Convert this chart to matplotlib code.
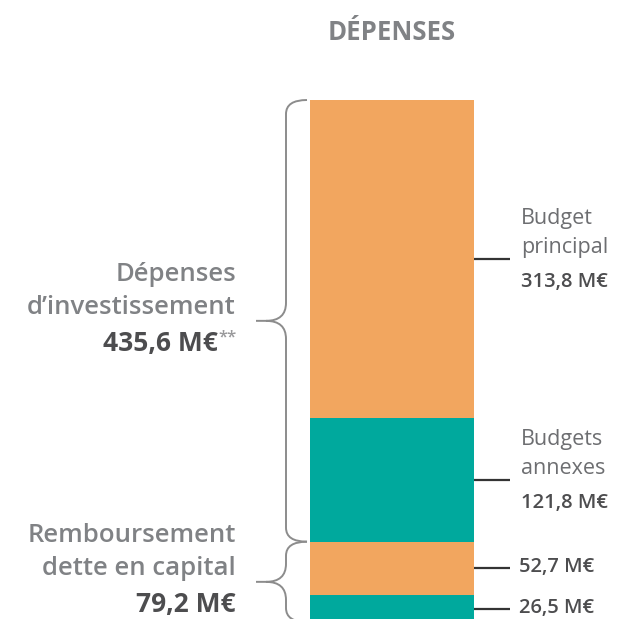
import matplotlib
matplotlib.use("Agg")
import matplotlib.pyplot as plt
from matplotlib.path import Path
from matplotlib.patches import PathPatch

# ─── Data ─────────────────────────────────────────────────────────────────────

SEGMENT_VALUES = [26.5, 52.7, 121.8, 313.8]          # bottom → top, M€
SEGMENT_COLORS = ["#00A99D", "#F2A65F", "#00A99D", "#F2A65F"]
SEGMENT_LABELS = [None, None, ("Budgets", "annexes"), ("Budget", "principal")]
SEGMENT_VALUE_TEXT = ["26,5 M€", "52,7 M€", "121,8 M€", "313,8 M€"]

GROUP_NAMES = [("Remboursement", "dette en capital"), ("Dépenses", "d\u2019investissement")]
GROUP_TOTALS = ["79,2 M€", "435,6 M€"]
GROUP_NOTES = ["", "**"]
GROUP_SPANS = [(0, 2), (2, 4)]                        # segment index ranges

TITLE = "DÉPENSES"

GREY = "#808285"
DARK = "#4d4d4f"
FONT = ["Open Sans", "DejaVu Sans"]

# ─── Figure ───────────────────────────────────────────────────────────────────

fig = plt.figure(figsize=(6.25, 6.19), dpi=100)
ax = fig.add_axes([0, 0, 1, 1])
total = sum(SEGMENT_VALUES)
k = 522 / total                       # px per M€
ax.set_xlim(0, 625)
ax.set_ylim(3 / k, total + 100 / k)
ax.axis("off")

bar_x, bar_w = 310, 164
bottoms = [sum(SEGMENT_VALUES[:i]) for i in range(len(SEGMENT_VALUES))]
ax.bar(bar_x, SEGMENT_VALUES, width=bar_w, bottom=bottoms, color=SEGMENT_COLORS,
       align="edge", linewidth=0)

# Right-hand labels with connector ticks
for v, b, lab, vt in zip(SEGMENT_VALUES, bottoms, SEGMENT_LABELS, SEGMENT_VALUE_TEXT):
    yc = b + v / 2
    ax.plot([bar_x + bar_w, 510], [yc, yc], color="#333333", lw=1.6,
            solid_capstyle="butt")
    if lab:
        for line, off in zip(lab, (35, 6)):
            ax.text(521, yc + off / k, line, ha="left", va="baseline", fontsize=15.5,
                    color="#6d6e71", family=FONT)
        ax.text(521, yc - 28 / k, vt, ha="left", va="baseline", fontsize=14.5,
                color=DARK, family=FONT, fontweight="semibold")
    else:
        ax.text(519, yc + 1 / k, vt, ha="left", va="center", fontsize=14.5,
                color=DARK, family=FONT, fontweight="semibold")


def draw_brace(y_top, y_bot, x_body=286, x_end=307, x_tip=256, r_end=14, r_mid=18):
    mid = (y_top + y_bot) / 2
    re_, rm = r_end / k, r_mid / k
    verts = [
        (x_end, y_top), (x_body, y_top), (x_body, y_top - re_),
        (x_body, mid + rm),
        (x_body, mid), (x_body - 20, mid),
        (x_tip, mid),
        (x_body - 20, mid), (x_body, mid), (x_body, mid - rm),
        (x_body, y_bot + re_),
        (x_body, y_bot), (x_end, y_bot),
    ]
    codes = [
        Path.MOVETO, Path.CURVE3, Path.CURVE3,
        Path.LINETO,
        Path.CURVE3, Path.CURVE3,
        Path.LINETO,
        Path.MOVETO, Path.CURVE3, Path.CURVE3,
        Path.LINETO,
        Path.CURVE3, Path.CURVE3,
    ]
    ax.add_patch(PathPatch(Path(verts, codes), fill=False, edgecolor="#8c8c8c",
                           lw=1.4, capstyle="butt"))
    return mid


for (i0, i1), name, tot, note in zip(GROUP_SPANS, GROUP_NAMES, GROUP_TOTALS, GROUP_NOTES):
    y_bot = bottoms[i0]
    y_top = bottoms[i1 - 1] + SEGMENT_VALUES[i1 - 1]
    mid = draw_brace(y_top, y_bot)
    for line, off in zip(name, (40, 7)):
        ax.text(236, mid + off / k, line, ha="right", va="baseline", fontsize=18.5,
                color=GREY, family=FONT, fontweight="semibold")
    x_val = 218 if note else 236
    t_val = ax.text(x_val, mid - 30 / k, tot, ha="right", va="baseline", fontsize=19,
                    color=DARK, family=FONT, fontweight="bold")
    if note:
        ax.annotate(note, xy=(1, 1), xycoords=t_val, xytext=(0.5, 0),
                    textcoords="offset points", ha="left", va="top", fontsize=12,
                    color="#9a9a9c", family=FONT, fontweight="semibold")

fig.text(392 / 625, 1 - 32 / 619, TITLE, ha="center", va="center", fontsize=18.5,
         color=GREY, family=FONT, fontweight="bold")

fig.savefig("out.png", dpi=100, facecolor="white")
